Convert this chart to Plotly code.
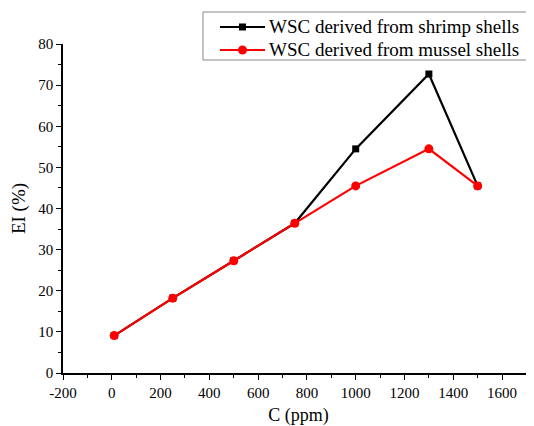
import plotly.graph_objects as go

conc = [10, 250, 500, 750, 1000, 1300, 1500]
shrimp = [9.1, 18.2, 27.3, 36.4, 54.5, 72.7, 45.5]
mussel = [9.1, 18.2, 27.3, 36.4, 45.5, 54.5, 45.5]
names = ["WSC derived from shrimp shells", "WSC derived from mussel shells"]
colors = ["black", "#ff0000"]
symbols = ["square", "circle"]
x_tickvals = [-200, 0, 200, 400, 600, 800, 1000, 1200, 1400, 1600]
x_ticktext = ["-200", "0", "200", "400", "600", "800", "1000", "1200", "1400", "1600"]

FONT = "Liberation Serif"

fig = go.Figure()
for yv, nm, col, sym, sz in zip([shrimp, mussel], names, colors, symbols, [7, 9]):
    fig.add_trace(go.Scatter(x=conc, y=yv, name=nm, mode="lines+markers",
                             line=dict(color=col, width=2.2), showlegend=False,
                             marker=dict(symbol=sym, size=sz, color=col)))

# legend box drawn in paper coordinates (plot area: 471 x 329 px)
shapes = [dict(type="rect", xref="paper", yref="paper", x0=0.2972, x1=0.9851,
               y0=0.9514, y1=1.0973, line=dict(color="#888888", width=1),
               fillcolor="white", layer="above")]
annotations = []
row_y = [1.0517, 0.9818]
for ry, nm, col, sym in zip(row_y, names, colors, symbols):
    shapes.append(dict(type="line", xref="paper", yref="paper", x0=0.3333, x1=0.4289,
                       y0=ry, y1=ry, line=dict(color=col, width=2.2), layer="above"))
    if sym == "square":
        shapes.append(dict(type="rect", xref="paper", yref="paper", xsizemode="pixel",
                           ysizemode="pixel", xanchor=0.3811, yanchor=ry,
                           x0=-3.5, x1=3.5, y0=-3.5, y1=3.5,
                           fillcolor=col, line=dict(width=0), layer="above"))
    else:
        shapes.append(dict(type="circle", xref="paper", yref="paper", xsizemode="pixel",
                           ysizemode="pixel", xanchor=0.3811, yanchor=ry,
                           x0=-4.5, x1=4.5, y0=-4.5, y1=4.5,
                           fillcolor=col, line=dict(width=0), layer="above"))
    annotations.append(dict(xref="paper", yref="paper", x=0.4331, y=ry, text=nm,
                            showarrow=False, xanchor="left", yanchor="middle",
                            font=dict(family=FONT, size=19, color="black")))

# page body has an 8px margin, so the figure is sized to fill the rest of the window
fig.update_layout(
    width=526, height=418,
    margin=dict(l=55, r=0, t=36, b=53, autoexpand=False),
    paper_bgcolor="white", plot_bgcolor="white",
    font=dict(family=FONT, color="black", size=15),
    showlegend=False,
    shapes=shapes, annotations=annotations,
    xaxis=dict(range=[-200, 1731], tickmode="array", tickvals=x_tickvals, ticktext=x_ticktext,
               ticks="outside", ticklen=5, tickwidth=1.2, tickcolor="black",
               minor=dict(ticks="outside", ticklen=3, dtick=100, tick0=-200, tickcolor="black"),
               showline=True, linecolor="black", linewidth=1.5, showgrid=False, zeroline=False,
               title=dict(text="C (ppm)", font=dict(family=FONT, size=18), standoff=13),
               tickfont=dict(family=FONT, size=15)),
    yaxis=dict(range=[0, 80], tickmode="linear", tick0=0, dtick=10,
               ticks="outside", ticklen=5, tickwidth=1.2, tickcolor="black",
               minor=dict(ticks="outside", ticklen=3, dtick=5, tick0=0, tickcolor="black"),
               showline=True, linecolor="black", linewidth=1.5, showgrid=False, zeroline=False,
               title=dict(text="EI (%)", font=dict(family=FONT, size=19), standoff=8),
               tickfont=dict(family=FONT, size=15)),
)

fig.write_html("out.html")
